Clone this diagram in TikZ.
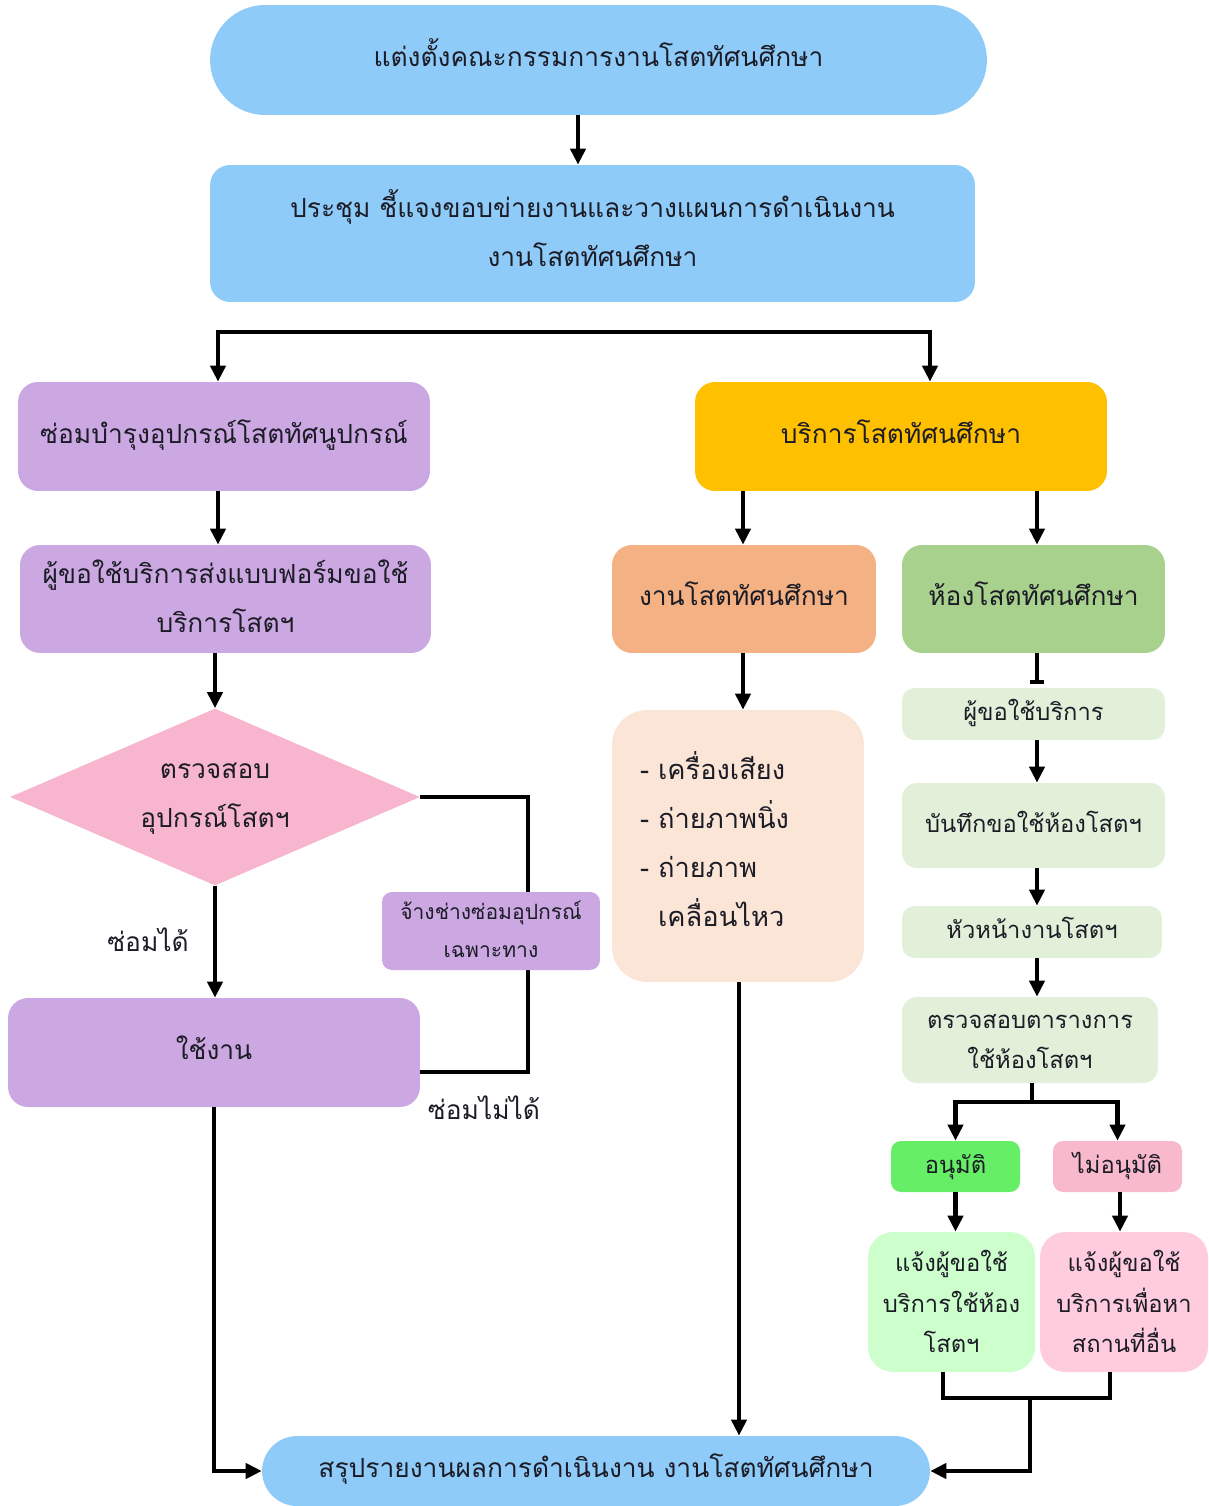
\documentclass[tikz,border=0pt]{standalone}
\usepackage{fontspec}
\usetikzlibrary{arrows.meta,shapes.geometric}
\newfontfamily\thaifont[Script=Thai]{Loma}

\definecolor{skyfill}{RGB}{143,203,249}
\definecolor{lavfill}{RGB}{204,168,226}
\definecolor{rosefill}{RGB}{248,182,206}
\definecolor{goldfill}{RGB}{255,192,0}
\definecolor{salmonfill}{RGB}{244,177,131}
\definecolor{leaffill}{RGB}{169,209,142}
\definecolor{peachfill}{RGB}{251,229,214}
\definecolor{mintfill}{RGB}{226,240,217}
\definecolor{okfill}{RGB}{102,238,102}
\definecolor{nofill}{RGB}{248,185,205}
\definecolor{okpale}{RGB}{204,255,204}
\definecolor{nopale}{RGB}{255,204,221}
\definecolor{ink}{RGB}{28,28,38}

\tikzset{
  basebox/.style={inner sep=0pt, align=center, text=ink, rounded corners=0.4cm},
  % text height / depth fix where the lines sit inside each box:
  % centred multi-line text hangs from its last baseline, so the height
  % covers the lines above it plus the lift
  oneline/.style={text height=7.6pt, text depth=0pt},
  bigtwo/.style={text height=38pt, text depth=0pt},
  midtwo/.style={text height=32.6pt, text depth=0pt},
  midthree/.style={text height=57.4pt, text depth=0pt},
  smalltwo/.style={text height=30.5pt, text depth=0pt},
  bigtext/.style={font=\thaifont\fontsize{15}{28}\selectfont},
  listtext/.style={font=\thaifont\fontsize{15.5}{28}\selectfont},
  midtext/.style={font=\thaifont\fontsize{13.5}{23}\selectfont},
  smalltext/.style={font=\thaifont\fontsize{12}{22}\selectfont},
  stadium/.style={basebox, bigtext, oneline, fill=skyfill},
  flowline/.style={line width=2.4pt, draw=black},
  flowarrow/.style={flowline, -{Triangle[length=0.32cm,width=0.3cm]}},
  twoarrow/.style={flowline, {Triangle[length=0.32cm,width=0.3cm]}-{Triangle[length=0.32cm,width=0.3cm]}},
  barline/.style={flowline, -{Bar[width=0.28cm,line width=2.4pt]}},
  lbl/.style={inner sep=0pt, text=ink, bigtext}
}

\begin{document}
\begin{tikzpicture}[x=0.02cm, y=-0.02cm]
\useasboundingbox (0,0) rectangle (1208,1506);

% --- top: appointment and meeting ---
\node[stadium, rounded corners=1.1cm, minimum width=15.54cm, minimum height=2.2cm]
  (appoint) at (598.5,60) {แต่งตั้งคณะกรรมการงานโสตทัศนศึกษา};
\node[basebox, bigtext, bigtwo, fill=skyfill, minimum width=15.3cm, minimum height=2.74cm]
  (meeting) at (592.5,233.5) {ประชุม ชี้แจงขอบข่ายงานและวางแผนการดำเนินงาน\\งานโสตทัศนศึกษา};

% --- left column: equipment maintenance ---
\node[basebox, bigtext, oneline, fill=lavfill, minimum width=8.24cm, minimum height=2.18cm]
  (repair) at (224,436.5) {ซ่อมบำรุงอุปกรณ์โสตทัศนูปกรณ์};
\node[basebox, bigtext, bigtwo, fill=lavfill, minimum width=8.22cm, minimum height=2.16cm]
  (form) at (225.5,599) {ผู้ขอใช้บริการส่งแบบฟอร์มขอใช้\\บริการโสตฯ};
\node[diamond, aspect=2.3, inner sep=0pt, fill=rosefill, minimum width=8.2cm, minimum height=3.54cm,
  align=center, text=ink, bigtext, text height=35pt, text depth=0pt]
  (inspect) at (215,797) {ตรวจสอบ\\อุปกรณ์โสตฯ};
\node[basebox, bigtext, oneline, fill=lavfill, minimum width=8.24cm, minimum height=2.18cm]
  (inuse) at (214,1052.5) {ใช้งาน};

% --- right column: services ---
\node[basebox, bigtext, oneline, fill=goldfill, minimum width=8.24cm, minimum height=2.18cm]
  (service) at (901,436.5) {บริการโสตทัศนศึกษา};
\node[basebox, bigtext, oneline, fill=salmonfill, minimum width=5.28cm, minimum height=2.16cm]
  (avwork) at (744,599) {งานโสตทัศนศึกษา};
\node[basebox, bigtext, oneline, fill=leaffill, minimum width=5.26cm, minimum height=2.16cm]
  (avroom) at (1033.5,599) {ห้องโสตทัศนศึกษา};
\node[basebox, listtext, fill=peachfill, rounded corners=0.7cm, align=left,
  text height=8pt, text depth=84pt,
  text width=3.92cm, inner xsep=0.56cm, minimum height=5.44cm]
  (items) at (738,846) {- เครื่องเสียง\\- ถ่ายภาพนิ่ง\\- ถ่ายภาพ\\\hphantom{- }เคลื่อนไหว};

% --- room booking steps ---
\node[basebox, midtext, oneline, fill=mintfill, rounded corners=0.25cm, minimum width=5.26cm, minimum height=1.04cm]
  (requester) at (1033.5,714) {ผู้ขอใช้บริการ};
\node[basebox, midtext, oneline, fill=mintfill, rounded corners=0.3cm, minimum width=5.26cm, minimum height=1.7cm]
  (record) at (1033.5,825.5) {บันทึกขอใช้ห้องโสตฯ};
\node[basebox, midtext, oneline, fill=mintfill, rounded corners=0.25cm, minimum width=5.2cm, minimum height=1.04cm]
  (head) at (1032,932) {หัวหน้างานโสตฯ};
\node[basebox, midtext, midtwo, fill=mintfill, rounded corners=0.3cm, minimum width=5.12cm, minimum height=1.72cm]
  (schedule) at (1030,1040) {ตรวจสอบตารางการ\\ใช้ห้องโสตฯ};
\node[basebox, midtext, oneline, fill=okfill, rounded corners=0.2cm, minimum width=2.58cm, minimum height=1.02cm]
  (approve) at (955.5,1166.5) {อนุมัติ};
\node[basebox, midtext, oneline, fill=nofill, rounded corners=0.2cm, minimum width=2.58cm, minimum height=1.02cm]
  (reject) at (1117.5,1166.5) {ไม่อนุมัติ};
\node[basebox, midtext, midthree, fill=okpale, rounded corners=0.5cm, minimum width=3.34cm, minimum height=2.8cm]
  (tellok) at (951.5,1302) {แจ้งผู้ขอใช้\\บริการใช้ห้อง\\โสตฯ};
\node[basebox, midtext, midthree, fill=nopale, rounded corners=0.5cm, minimum width=3.36cm, minimum height=2.8cm]
  (tellno) at (1124,1302) {แจ้งผู้ขอใช้\\บริการเพื่อหา\\สถานที่อื่น};

% --- bottom: report ---
\node[stadium, rounded corners=0.7cm, minimum width=13.36cm, minimum height=1.4cm]
  (report) at (596,1471) {สรุปรายงานผลการดำเนินงาน งานโสตทัศนศึกษา};

% --- junction points and connector columns ---
\coordinate (splitL) at (218,332);
\coordinate (splitR) at (930,332);
\coordinate (loopTop) at (528,797);
\coordinate (loopBot) at (528,1072);
\coordinate (roomSplit) at (1032,1102);
\coordinate (roomJoin) at (1030,1398);
\coordinate (colWork) at (743,0);
\coordinate (colList) at (739,0);
\coordinate (colRoom) at (1037,0);
\coordinate (roomTick) at (1037,684);

% --- connectors ---
\draw[flowarrow] ([xshift=-0.41cm]appoint.south) -- ([xshift=-0.41cm]appoint.south |- meeting.north);
\draw[twoarrow] (splitL |- repair.north) -- (splitL) -- (splitR) -- (splitR |- service.north);

\draw[flowarrow] (splitL |- repair.south) -- (splitL |- form.north);
\draw[flowarrow] (inspect.north |- form.south) -- (inspect.north);
\draw[flowarrow] (inspect.south) -- (inspect.south |- inuse.north);
\draw[flowline] (inspect.east) -- (loopTop) -- (loopBot) -- (loopBot -| inuse.east);
\draw[flowarrow] (inuse.south) |- (report.west);

\draw[flowarrow] (colWork |- service.south) -- (colWork |- avwork.north);
\draw[flowarrow] (colRoom |- service.south) -- (colRoom |- avroom.north);
\draw[flowarrow] (colWork |- avwork.south) -- (colWork |- items.north);
\draw[flowarrow] (colList |- items.south) -- (colList |- report.north);

\draw[barline] (colRoom |- avroom.south) -- (roomTick);
\draw[flowarrow] (colRoom |- requester.south) -- (colRoom |- record.north);
\draw[flowarrow] (colRoom |- record.south) -- (colRoom |- head.north);
\draw[flowarrow] (colRoom |- head.south) -- (colRoom |- schedule.north);
\draw[flowline] (roomSplit |- schedule.south) -- (roomSplit);
\draw[twoarrow] (approve.north) |- (roomSplit) -| (reject.north);
\draw[flowarrow] (approve.south) -- (approve.south |- tellok.north);
\draw[flowarrow] ([xshift=0.05cm]reject.south) -- ([xshift=0.05cm]reject.south |- tellno.north);
\draw[flowline] ([xshift=-0.17cm]tellok.south) |- (roomJoin) -| ([xshift=-0.28cm]tellno.south);
\draw[flowarrow] (roomJoin) |- (report.east);

% --- contractor box sits on the loop line ---
\node[basebox, smalltext, smalltwo, fill=lavfill, rounded corners=0.2cm,
  minimum width=4.36cm, minimum height=1.56cm]
  (contract) at (491,931) {จ้างช่างซ่อมอุปกรณ์\\เฉพาะทาง};

% --- branch labels ---
\node[lbl] (fixok) at (148,940) {ซ่อมได้};
\node[lbl] (fixno) at (484,1108) {ซ่อมไม่ได้};

\end{tikzpicture}
\end{document}
